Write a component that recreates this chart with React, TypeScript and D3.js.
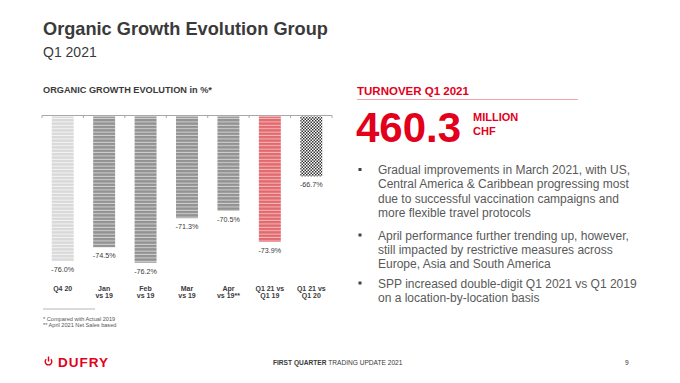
import React from "react";
import * as d3 from "d3";

const categories = ["Q4 20", "Jan vs 19", "Feb vs 19", "Mar vs 19", "Apr vs 19**", "Q1 21 vs Q1 19", "Q1 21 vs Q1 20"];
const catLine1 = ["Q4 20", "Jan", "Feb", "Mar", "Apr", "Q1 21 vs", "Q1 21 vs"];
const catLine2 = ["", "vs 19", "vs 19", "vs 19", "vs 19**", "Q1 19", "Q1 20"];
const values = [-76.0, -74.5, -76.2, -71.3, -70.5, -73.9, -66.7];
const valueLabels = ["-76.0%", "-74.5%", "-76.2%", "-71.3%", "-70.5%", "-73.9%", "-66.7%"];
const patterns = ["light", "gray", "gray", "gray", "gray", "red", "check"];

const bullets = [
  ["Gradual improvements in March 2021, with US,", "Central America & Caribbean progressing most", "due to successful vaccination campaigns and", "more flexible travel protocols"],
  ["April performance further trending up, however,", "still impacted by restrictive measures across", "Europe, Asia and South America"],
  ["SPP increased double-digit Q1 2021 vs Q1 2019", "on a location-by-location basis"],
];

const FONT = "'Liberation Sans', Arial, sans-serif";
const RED = "#e2001a";

export default function App() {
  const x = d3.scaleBand<string>().domain(categories).range([42, 332]).paddingInner(0.47).paddingOuter(0.235);
  const y = d3.scaleLinear().domain([-60, -77]).range([115.5, 270]);
  const step = x.step();
  const boundaries = d3.range(categories.length + 1).map((i) => 42 + i * step);

  const bulletLines: { text: string; y: number; first: boolean }[] = [];
  const starts = [174, 239.5, 287.5];
  bullets.forEach((b, bi) => {
    b.forEach((t, li) => bulletLines.push({ text: t, y: starts[bi] + li * 14.4, first: li === 0 }));
  });

  return (
    <svg width={680} height={383} style={{ position: "absolute", left: 0, top: 0, background: "#fff" }} fontFamily={FONT}>
      <defs>
        <pattern id="p-light" width={4} height={3.4} patternUnits="userSpaceOnUse">
          <rect width={4} height={3.4} fill="#d9d9d9" />
          <rect y={2.4} width={4} height={1} fill="#f4f4f4" />
        </pattern>
        <pattern id="p-gray" width={4} height={3.4} patternUnits="userSpaceOnUse">
          <rect width={4} height={3.4} fill="#929292" />
          <rect y={2.4} width={4} height={1} fill="#d2d2d2" />
        </pattern>
        <pattern id="p-red" width={4} height={3.4} patternUnits="userSpaceOnUse">
          <rect width={4} height={3.4} fill="#e26a6f" />
          <rect y={2.4} width={4} height={1} fill="#f6b9bb" />
        </pattern>
        <pattern id="p-check" width={3} height={3} patternUnits="userSpaceOnUse">
          <rect width={3} height={3} fill="#ffffff" />
          <rect width={1.5} height={1.5} fill="#333" />
          <rect x={1.5} y={1.5} width={1.5} height={1.5} fill="#333" />
        </pattern>
      </defs>

      {/* Titles */}
      <text x={43} y={35} fontSize={18.2} fontWeight="bold" fill="#3a3a3a">Organic Growth Evolution Group</text>
      <text x={43} y={56.5} fontSize={14} fill="#3a3a3a">Q1 2021</text>
      <text x={43} y={92.5} fontSize={9.2} fontWeight="bold" fill="#3a3a3a">ORGANIC GROWTH EVOLUTION in %*</text>

      {/* Bars */}
      {categories.map((c, i) => (
        <rect key={c} x={x(c)} y={y(-60) + 1} width={x.bandwidth()} height={y(values[i]) - y(-60) - 1} fill={`url(#p-${patterns[i]})`} />
      ))}
      <line x1={42} x2={332} y1={115.5} y2={115.5} stroke="#a8a8a8" strokeWidth={1} />
      {boundaries.map((b, i) => (
        <line key={i} x1={b} x2={b} y1={115.5} y2={118} stroke="#a8a8a8" strokeWidth={1} />
      ))}
      {categories.map((c, i) => (
        <text key={c} x={x(c)! + x.bandwidth() / 2} y={y(values[i]) + 11} fontSize={7.2} textAnchor="middle" fill="#3a3a3a">{valueLabels[i]}</text>
      ))}
      {categories.map((c, i) => (
        <g key={c}>
          <text x={x(c)! + x.bandwidth() / 2} y={290.5} fontSize={7} fontWeight="bold" textAnchor="middle" fill="#3a3a3a">{catLine1[i]}</text>
          <text x={x(c)! + x.bandwidth() / 2} y={298} fontSize={7} fontWeight="bold" textAnchor="middle" fill="#3a3a3a">{catLine2[i]}</text>
        </g>
      ))}

      {/* Right panel */}
      <text x={357} y={95} fontSize={11.5} fontWeight="bold" fill={RED}>TURNOVER Q1 2021</text>
      <line x1={357} x2={578} y1={99.5} y2={99.5} stroke="#f2a7ad" strokeWidth={1} />
      <text x={356} y={141.7} fontSize={42} fontWeight="bold" fill={RED}>460.3</text>
      <text x={473} y={120.5} fontSize={11} fontWeight="bold" fill={RED}>MILLION</text>
      <text x={473} y={135} fontSize={11} fontWeight="bold" fill={RED}>CHF</text>

      {bulletLines.map((l, i) => (
        <g key={i}>
          {l.first && <rect x={358.5} y={l.y - 6} width={3} height={3} fill="#404040" />}
          <text x={378} y={l.y} fontSize={12} fill="#595959">{l.text}</text>
        </g>
      ))}

      {/* Footnotes */}
      <line x1={43} x2={95} y1={309} y2={309} stroke="#9a9a9a" strokeWidth={0.7} />
      <text x={43} y={320.5} fontSize={5.6} fill="#555">* Compared with Actual 2019</text>
      <text x={43} y={327} fontSize={5.6} fill="#555">** April 2021 Net Sales based</text>

      {/* Footer */}
      <g>
        <path d="M 46.2 359.2 A 3.3 3.3 0 1 0 50.8 359.2" fill="none" stroke={RED} strokeWidth={1.4} />
        <line x1={48.5} x2={48.5} y1={356.5} y2={361.5} stroke={RED} strokeWidth={1.4} />
      </g>
      <text x={58} y={366.7} fontSize={13.5} fontWeight="bold" fill={RED} letterSpacing={1}>DUFRY</text>
      <text x={273} y={365} fontSize={6.6} fill="#3a3a3a">
        <tspan fontWeight="bold">FIRST QUARTER</tspan> TRADING UPDATE 2021
      </text>
      <text x={625} y={365} fontSize={6.6} fill="#3a3a3a">9</text>
    </svg>
  );
}
